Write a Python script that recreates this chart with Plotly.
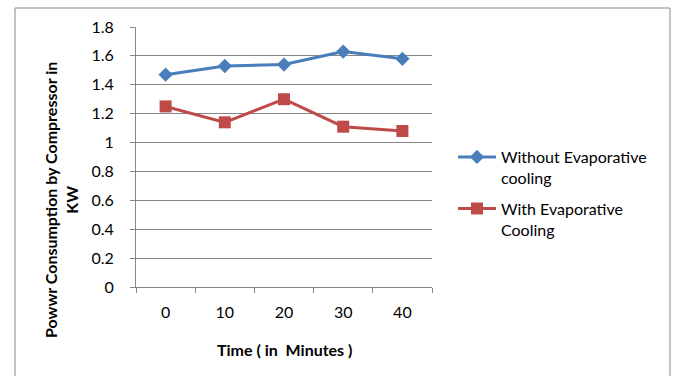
import plotly.graph_objects as go

times = ["0", "10", "20", "30", "40"]
without_evap = [1.47, 1.53, 1.54, 1.63, 1.58]
with_evap = [1.25, 1.14, 1.30, 1.11, 1.08]
y_ticks = [0, 0.2, 0.4, 0.6, 0.8, 1, 1.2, 1.4, 1.6, 1.8]

FONT = "Lato"
GRID = "#878787"

fig = go.Figure()
fig.add_trace(go.Scatter(
    x=times, y=without_evap, mode="lines+markers",
    name="Without Evaporative<br>cooling", legendgroup="g1",
    line=dict(color="#4A7EBB", width=3),
    marker=dict(symbol="diamond", size=11, color="#4A7EBB"),
))
fig.add_trace(go.Scatter(
    x=times, y=with_evap, mode="lines+markers",
    name="With Evaporative<br>Cooling", legendgroup="g2",
    line=dict(color="#BE4B48", width=3),
    marker=dict(symbol="square", size=12, color="#BE4B48"),
))

W, H = 675, 376
L, R, T, B = 136, 432, 27, 287
pw, ph = R - L, B - T

def px(x):
    return (x - L) / pw

def py(y):
    return (B - y) / ph

fig.update_layout(
    width=W, height=H,
    margin=dict(l=L, r=W - R, t=T, b=H - B),
    paper_bgcolor="white", plot_bgcolor="white",
    font=dict(family=FONT, size=16, color="#000000"),
    showlegend=True,
    legend=dict(
        x=px(453), y=py(140), xanchor="left", yanchor="top",
        valign="top", tracegroupgap=7, itemwidth=38,
        font=dict(family=FONT, size=16, color="#000000"),
        bgcolor="rgba(0,0,0,0)",
    ),
    xaxis=dict(
        type="category", range=[-0.5, 4.5],
        showgrid=False, showline=True, linecolor=GRID, linewidth=1,
        ticks="outside", tickson="boundaries", ticklen=5, tickcolor=GRID,
        ticklabelstandoff=11,
        tickfont=dict(family=FONT, size=16),
        zeroline=False, fixedrange=True,
    ),
    yaxis=dict(
        range=[0, 1.8], tickvals=y_ticks,
        showgrid=True, gridcolor=GRID, gridwidth=1,
        showline=True, linecolor=GRID, linewidth=1,
        ticks="outside", ticklen=5, tickcolor=GRID,
        ticklabelstandoff=13,
        tickfont=dict(family=FONT, size=16),
        zeroline=False, fixedrange=True,
    ),
    shapes=[dict(
        type="rect", xref="paper", yref="paper",
        x0=px(15), x1=px(670), y0=py(385), y1=py(8),
        line=dict(color="#868686", width=1), fillcolor="rgba(0,0,0,0)",
        layer="below",
    )],
    annotations=[
        dict(text="<b>Powwr Consumption by Compressor in<br>KW</b>",
             xref="paper", yref="paper", x=px(61), y=py(200),
             xanchor="center", yanchor="middle", textangle=-90,
             showarrow=False, font=dict(family=FONT, size=16)),
        dict(text="<b>Time ( in  Minutes )</b>",
             xref="paper", yref="paper", x=px(284), y=py(349),
             xanchor="center", yanchor="middle",
             showarrow=False, font=dict(family=FONT, size=16)),
    ],
)

fig.write_html("out.html")
